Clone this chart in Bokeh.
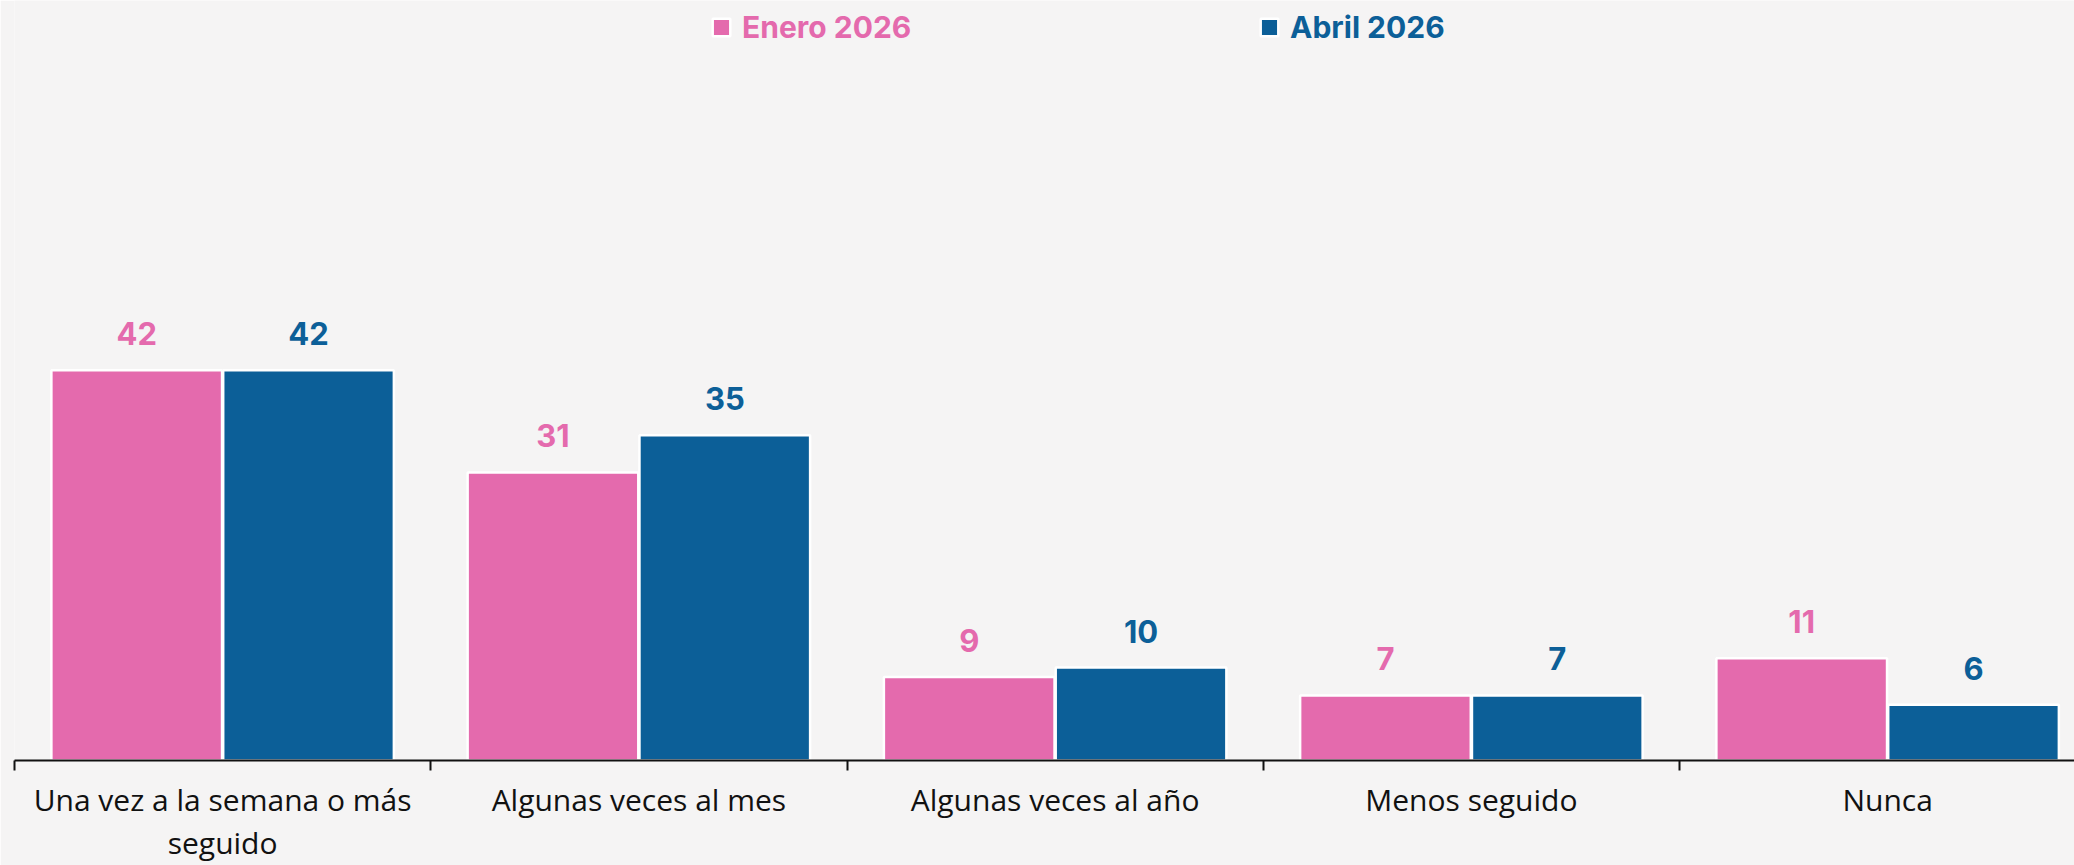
from bokeh.plotting import figure
from bokeh.models import (ColumnDataSource, Range1d, FixedTicker, LabelSet, Legend, LegendItem)
from bokeh.core.properties import value
from bokeh.transform import dodge
from bokeh.embed import file_html
from bokeh.resources import INLINE

categories = ["Una vez a la semana o más\nseguido", "Algunas veces al mes",
              "Algunas veces al año", "Menos seguido", "Nunca"]
enero_2026 = [42, 31, 9, 7, 11]
abril_2026 = [42, 35, 10, 7, 6]
series_names = ["Enero 2026", "Abril 2026"]

PINK = "#e46aad"
BLUE = "#0c5f98"
BG = "#f5f4f4"

centers = [i + 0.5 for i in range(len(categories))]
src = ColumnDataSource(dict(
    x=centers, enero=enero_2026, abril=abril_2026,
    enero_txt=[str(v) for v in enero_2026], abril_txt=[str(v) for v in abril_2026]))

p = figure(width=2074, height=865, output_backend="svg", toolbar_location=None,
           x_range=Range1d(0, 2060 / 416.25), y_range=Range1d(0, 81.8),
           y_axis_location=None, min_border_left=14, min_border_right=0,
           min_border_top=0, background_fill_color=BG, border_fill_color=BG)
p.outline_line_color = None
p.xgrid.visible = False
p.ygrid.visible = False

OFF = 0.2064
W = 0.41
r1 = p.vbar(x=dodge("x", -OFF), top="enero", width=W, source=src,
            fill_color=PINK, line_color="white", line_width=2.5)
r2 = p.vbar(x=dodge("x", OFF), top="abril", width=W, source=src,
            fill_color=BLUE, line_color="white", line_width=2.5)

for col, txt, off, color in [("enero", "enero_txt", -OFF, PINK), ("abril", "abril_txt", OFF, BLUE)]:
    p.add_layout(LabelSet(x=dodge("x", off), y=col, text=txt, source=src,
                          y_offset=25, text_align="center", text_baseline="alphabetic",
                          text_font=value("Inter"), text_font_style="bold",
                          text_font_size="31px", text_color=color))

ax = p.xaxis[0]
ax.ticker = FixedTicker(ticks=centers, minor_ticks=list(range(len(categories) + 1)))
ax.major_label_overrides = {c: lab for c, lab in zip(centers, categories)}
ax.major_tick_line_color = None
ax.major_tick_out = 0
ax.major_tick_in = 0
ax.minor_tick_out = 10
ax.minor_tick_in = 0
ax.minor_tick_line_color = "#111111"
ax.minor_tick_line_width = 2
ax.axis_line_color = "#111111"
ax.axis_line_width = 2
ax.major_label_standoff = 8
ax.major_label_text_font = "Open Sans"
ax.major_label_text_font_size = "30px"
ax.major_label_text_color = "#111111"
ax.major_label_text_line_height = 1.05

for r, name, color, xloc in [(r1, series_names[0], PINK, 696), (r2, series_names[1], BLUE, 1244)]:
    lg = Legend(items=[LegendItem(label=name, renderers=[r])], location=(xloc, 715),
                orientation="horizontal", padding=0, margin=0, spacing=0,
                glyph_width=22, glyph_height=22, label_standoff=10,
                label_text_font="Inter", label_text_font_style="bold",
                label_text_font_size="30px", label_text_color=color,
                border_line_alpha=0, background_fill_alpha=0)
    p.add_layout(lg, "center")

open("out.html", "w").write(file_html(p, INLINE))
